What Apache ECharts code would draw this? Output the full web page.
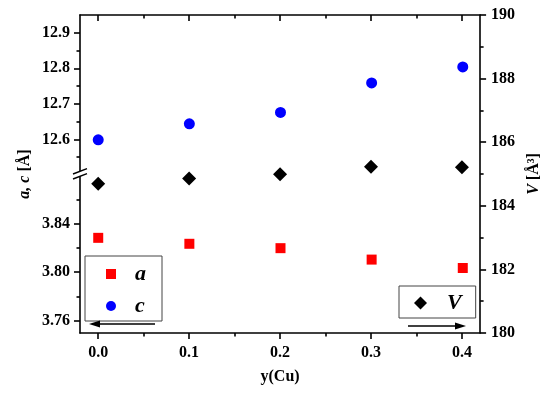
<!DOCTYPE html>
<html>
<head>
<meta charset="utf-8">
<script src="https://cdn.jsdelivr.net/npm/echarts@6/dist/echarts.min.js"></script>
<style>html,body{margin:0;padding:0;background:#fff}#c{width:550px;height:395px}</style>
</head>
<body>
<div id="c"></div>
<script>
const yCu = [0.0, 0.1, 0.2, 0.3, 0.4];
const aVals = [3.8283, 3.8234, 3.8198, 3.8104, 3.8035];
const cVals = [12.599, 12.644, 12.676, 12.759, 12.804];
const vVals = [184.69, 184.86, 184.99, 185.23, 185.21];

const xTicks = [0.0, 0.1, 0.2, 0.3, 0.4];
const xMinor = [0.05, 0.15, 0.25, 0.35];
const cTicks = [12.6, 12.7, 12.8, 12.9];
const cMinor = [12.55, 12.65, 12.75, 12.85];
const aTicks = [3.76, 3.80, 3.84];
const aMinor = [3.78, 3.82, 3.86];
const vTicks = [180, 182, 184, 186, 188, 190];
const vMinor = [181, 183, 185, 187, 189];

const FF = 'Liberation Serif';
const lineStyle = {color: '#000', width: 1.6};
const aLine = (show) => ({show: show, onZero: false, lineStyle});
const labelStyle = (vals, fmt, margin) => ({show: true, customValues: vals, formatter: fmt, margin: margin,
  fontFamily: FF, fontWeight: 'bold', fontSize: 16, color: '#000'});

function xPair(grid) {
  return {gridIndex: grid, type: 'value', min: -0.02, max: 0.42, splitLine: {show: false}};
}

const chart = echarts.init(document.getElementById('c'));
chart.setOption({
  animation: false,
  backgroundColor: '#fff',
  grid: [
    {left: 80, right: 69, top: 15, bottom: 62},
    {left: 80, right: 69, top: 15, height: 160},
    {left: 80, right: 69, top: 175, bottom: 62}
  ],
  xAxis: [
    Object.assign(xPair(0), {position: 'bottom', axisLine: aLine(true),
      axisTick: {show: true, customValues: xTicks, inside: false, length: 6, lineStyle},
      axisLabel: labelStyle(xTicks, v => v.toFixed(1), 12),
      name: 'y(Cu)', nameLocation: 'middle', nameGap: 36,
      nameTextStyle: {fontFamily: FF, fontWeight: 'bold', fontSize: 16, color: '#000'}}),
    Object.assign(xPair(0), {position: 'bottom', axisLine: aLine(false),
      axisTick: {show: true, customValues: xMinor, length: 3.5, lineStyle}, axisLabel: {show: false}}),
    Object.assign(xPair(0), {position: 'top', axisLine: aLine(true),
      axisTick: {show: true, customValues: xTicks, inside: true, length: 6, lineStyle}, axisLabel: {show: false}}),
    Object.assign(xPair(0), {position: 'top', axisLine: aLine(false),
      axisTick: {show: true, customValues: xMinor, inside: true, length: 3.5, lineStyle}, axisLabel: {show: false}}),
    Object.assign(xPair(1), {show: false}),
    Object.assign(xPair(2), {show: false})
  ],
  yAxis: [
    {gridIndex: 0, type: 'value', position: 'right', min: 180, max: 190, splitLine: {show: false},
      axisLine: aLine(true),
      axisTick: {show: true, customValues: vTicks, length: 6, lineStyle},
      axisLabel: labelStyle(vTicks, v => String(v), 11),
      name: '{i|V} [Å³]', nameLocation: 'middle', nameGap: 33, nameRotate: 90,
      nameTextStyle: {fontFamily: FF, fontWeight: 'bold', fontSize: 16, color: '#000',
        rich: {i: {fontFamily: FF, fontWeight: 'bold', fontStyle: 'italic', fontSize: 16, color: '#000'}}}},
    {gridIndex: 0, type: 'value', position: 'right', min: 180, max: 190, splitLine: {show: false},
      axisLine: aLine(false), axisTick: {show: true, customValues: vMinor, length: 3.5, lineStyle},
      axisLabel: {show: false}},
    {gridIndex: 0, type: 'value', position: 'left', min: 0, max: 1, splitLine: {show: false},
      axisLine: aLine(false), axisTick: {show: false}, axisLabel: {show: false},
      name: '{i|a, c} [Å]', nameLocation: 'middle', nameGap: 47, nameRotate: 90,
      nameTextStyle: {fontFamily: FF, fontWeight: 'bold', fontSize: 16, color: '#000',
        rich: {i: {fontFamily: FF, fontWeight: 'bold', fontStyle: 'italic', fontSize: 16, color: '#000'}}}},
    {gridIndex: 1, type: 'value', position: 'left', min: 12.5, max: 12.95, splitLine: {show: false},
      axisLine: aLine(true),
      axisTick: {show: true, customValues: cTicks, length: 6, lineStyle},
      axisLabel: labelStyle(cTicks, v => v.toFixed(1), 10)},
    {gridIndex: 1, type: 'value', position: 'left', min: 12.5, max: 12.95, splitLine: {show: false},
      axisLine: aLine(false), axisTick: {show: true, customValues: cMinor, length: 3.5, lineStyle},
      axisLabel: {show: false}},
    {gridIndex: 2, type: 'value', position: 'left', min: 3.75, max: 3.88, splitLine: {show: false},
      axisLine: aLine(true),
      axisTick: {show: true, customValues: aTicks, length: 6, lineStyle},
      axisLabel: labelStyle(aTicks, v => v.toFixed(2), 10)},
    {gridIndex: 2, type: 'value', position: 'left', min: 3.75, max: 3.88, splitLine: {show: false},
      axisLine: aLine(false), axisTick: {show: true, customValues: aMinor, length: 3.5, lineStyle},
      axisLabel: {show: false}}
  ],
  legend: [
    {data: ['a', 'c'], left: 85, top: 256, orient: 'vertical', itemWidth: 10, itemHeight: 10, itemGap: 10,
      padding: [7, 16, 4, 21], borderColor: '#444', borderWidth: 1, selectedMode: false,
      textStyle: {fontFamily: FF, fontSize: 22, fontStyle: 'italic', fontWeight: 'bold', color: '#000',
        lineHeight: 20, padding: [0, 0, 0, 14]}},
    {data: ['V'], left: 399, top: 286, orient: 'vertical', itemWidth: 13, itemHeight: 13,
      padding: [6, 14, 4, 15], borderColor: '#444', borderWidth: 1, selectedMode: false,
      textStyle: {fontFamily: FF, fontSize: 22, fontStyle: 'italic', fontWeight: 'bold', color: '#000',
        lineHeight: 22, padding: [0, 0, 0, 15]}}
  ],
  series: [
    {name: 'a', type: 'scatter', xAxisIndex: 5, yAxisIndex: 5, symbol: 'rect', symbolSize: 10,
      itemStyle: {color: '#ff0000', opacity: 1}, data: yCu.map((x, i) => [x, aVals[i]])},
    {name: 'c', type: 'scatter', xAxisIndex: 4, yAxisIndex: 3, symbol: 'circle', symbolSize: 11,
      itemStyle: {color: '#0000ff', opacity: 1}, data: yCu.map((x, i) => [x, cVals[i]])},
    {name: 'V', type: 'scatter', xAxisIndex: 0, yAxisIndex: 0, symbol: 'diamond', symbolSize: 14,
      itemStyle: {color: '#000', opacity: 1}, data: yCu.map((x, i) => [x, vVals[i]])}
  ],
  graphic: [
    {type: 'polygon', z: 100, shape: {points: [[73, 174], [87, 168.6], [87, 173.6], [73, 179]]}, style: {fill: '#fff'}},
    {type: 'line', z: 101, shape: {x1: 73, y1: 174, x2: 87, y2: 168.6}, style: {stroke: '#000', lineWidth: 1.5}},
    {type: 'line', z: 101, shape: {x1: 73, y1: 179, x2: 87, y2: 173.6}, style: {stroke: '#000', lineWidth: 1.5}},
    {type: 'line', z: 101, shape: {x1: 155, y1: 324, x2: 97, y2: 324}, style: {stroke: '#000', lineWidth: 1.6}},
    {type: 'polygon', z: 101, shape: {points: [[89, 324], [100, 320.5], [100, 327.5]]}, style: {fill: '#000'}},
    {type: 'line', z: 101, shape: {x1: 408, y1: 326, x2: 457, y2: 326}, style: {stroke: '#000', lineWidth: 1.6}},
    {type: 'polygon', z: 101, shape: {points: [[466, 326], [455, 322.5], [455, 329.5]]}, style: {fill: '#000'}}
  ]
});
</script>
</body>
</html>
